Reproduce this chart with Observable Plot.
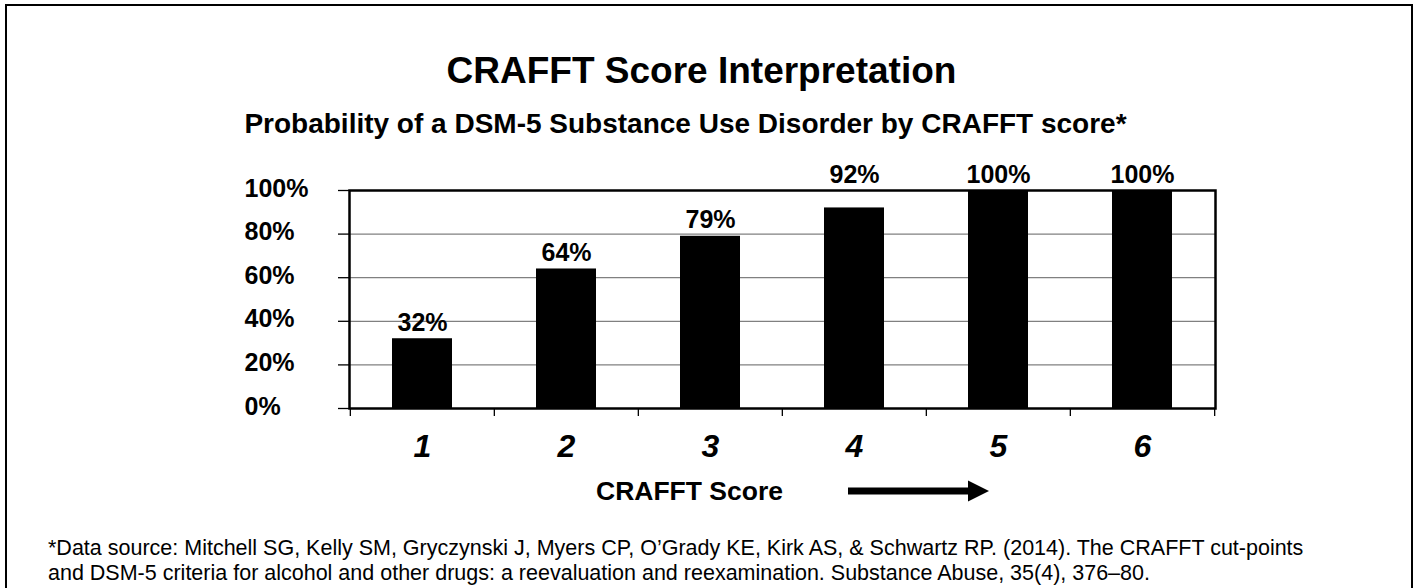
<!DOCTYPE html>
<html>
<head>
<meta charset="utf-8">
<script src="https://cdn.jsdelivr.net/npm/d3@7"></script>
<script src="https://cdn.jsdelivr.net/npm/@observablehq/plot@0.6"></script>
<style>
  html, body { margin: 0; padding: 0; background: #fff; }
  body { width: 1415px; height: 588px; overflow: hidden; position: relative;
         font-family: "Liberation Sans", Arial, sans-serif; color: #000; }
  #border { position: absolute; left: 5px; top: 4px; width: 1404px; height: 700px;
            border: 2.5px solid #000; border-bottom: none; pointer-events: none; }
  #title { position: relative; left: -6px; margin-top: 50px; height: 41px; line-height: 41px; font-size: 37px; font-weight: bold;
           text-align: center; width: 1415px; }
  #subtitle { position: relative; left: -22px; margin-top: 13px; height: 40px; line-height: 40px; font-size: 28px; font-weight: bold;
              text-align: center; width: 1415px; }
  #chart svg { display: block; }
  #xcap { position: relative; height: 42px; width: 1415px; }
  #xcap span { position: absolute; left: 596px; top: 0; line-height: 42px; font-size: 26.5px; font-weight: bold; }
  #xcap svg { position: absolute; left: 848px; top: 10px; }
  #note { margin-top: 24px; padding-left: 48px; font-size: 21.5px; line-height: 25px; }
</style>
</head>
<body>
<div id="border"></div>
<div id="title">CRAFFT Score Interpretation</div>
<div id="subtitle">Probability of a DSM-5 Substance Use Disorder by CRAFFT score*</div>
<div id="chart"></div>
<div id="xcap"><span>CRAFFT Score</span>
  <svg width="142" height="22"><rect x="0" y="7.5" width="122" height="7" fill="#000"></rect><polygon points="120,0.5 141,11 120,21.5" fill="#000"></polygon></svg>
</div>
<div id="note">*Data source: Mitchell SG, Kelly SM, Gryczynski J, Myers CP, O’Grady KE, Kirk AS, &amp; Schwartz RP. (2014). The CRAFFT cut-points<br>and DSM-5 criteria for alcohol and other drugs: a reevaluation and reexamination. Substance Abuse, 35(4), 376–80.</div>
<script>
const scores = ["1", "2", "3", "4", "5", "6"];
const probs = [32, 64, 79, 92, 100, 100];
const yTicks = [0, 20, 40, 60, 80, 100];

const data = scores.map((s, i) => ({score: s, p: probs[i]}));

const W = 1415, ML = 349, MR = 200;
const step = (W - ML - MR) / scores.length;
const font = "'Liberation Sans', Arial, sans-serif";
const yMax = 100;
// labels that would collide with the top frame line are lifted above it
const labelY = d => (d.p > 85 ? yMax : d.p);

const chart = Plot.plot({
  width: W,
  height: 326,
  marginTop: 46,
  marginBottom: 62,
  marginLeft: ML,
  marginRight: MR,
  style: {fontFamily: font, background: "transparent", color: "#000", overflow: "visible"},
  x: {domain: scores, paddingInner: 0.58, paddingOuter: 0.29},
  y: {domain: [0, yMax]},
  marks: [
    Plot.ruleY(yTicks.filter(d => d > 0 && d < yMax), {stroke: "#808080", strokeWidth: 1.3}),
    Plot.barY(data, {x: "score", y: "p", fill: "#000"}),
    Plot.frame({stroke: "#000", strokeWidth: 2.5}),
    Plot.text(data, {x: "score", y: labelY, text: d => d.p + "%", dy: -8, lineAnchor: "bottom",
                     fontSize: 25, fontWeight: "bold", fill: "#000"}),
    Plot.axisY({ticks: yTicks, tickSize: 11, tickFormat: () => "", label: null, strokeWidth: 1.3}),
    Plot.text(yTicks, {y: d => d, text: d => d + "%", frameAnchor: "left", textAnchor: "start",
                       dx: -105, dy: -2, fontSize: 25, fontWeight: "bold", fill: "#000"}),
    Plot.axisX({tickSize: 8, tickFormat: () => "", label: null, dx: -step / 2, strokeWidth: 1.3}),
    Plot.axisX({ticks: [scores[scores.length - 1]], tickSize: 8, tickFormat: () => "", label: null,
                dx: step / 2, strokeWidth: 1.3}),
    Plot.axisX({tickSize: 0, tickPadding: 26, label: null, fontSize: 32, fontWeight: "bold",
                fontStyle: "italic", fill: "#000"})
  ]
});
document.getElementById("chart").appendChild(chart);
</script>
</body>
</html>
